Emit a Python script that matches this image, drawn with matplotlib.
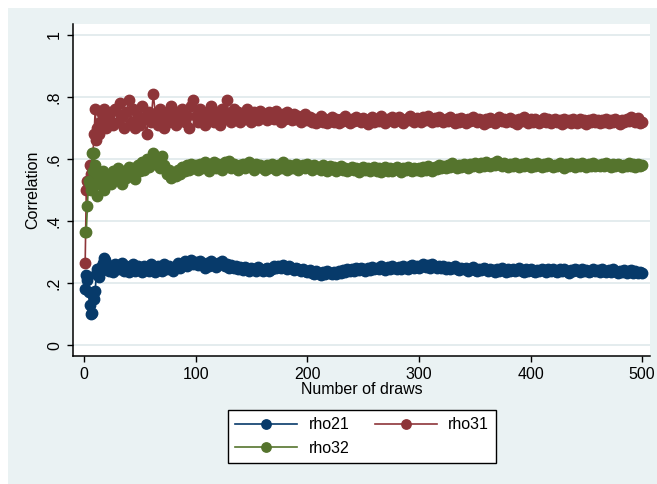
import numpy as np
import matplotlib
matplotlib.use("Agg")
import matplotlib.pyplot as plt
from matplotlib.patches import Rectangle

plt.rcParams['font.family'] = ['Liberation Sans', 'DejaVu Sans']

# draw numbers: every draw up to 20, then every 2nd draw
draws = np.concatenate([np.arange(1, 21), np.arange(22, 501, 2)])

rho21 = [0.18, 0.225, 0.21, 0.17, 0.13, 0.10, 0.105, 0.16, 0.15, 0.175,
         0.23, 0.245, 0.22, 0.25, 0.24, 0.255, 0.265, 0.28, 0.275, 0.25,
         0.24, 0.255, 0.235, 0.26, 0.245, 0.25, 0.265, 0.24, 0.255, 0.235,
         0.25, 0.26, 0.24, 0.255, 0.245, 0.235, 0.255, 0.25, 0.24, 0.26,
         0.245, 0.235, 0.255, 0.25, 0.24, 0.26, 0.245, 0.255, 0.25, 0.24,
         0.255, 0.265, 0.25, 0.26, 0.27, 0.255, 0.265, 0.275, 0.26, 0.268,
         0.258, 0.27, 0.262, 0.25, 0.265, 0.255, 0.27, 0.26, 0.252, 0.266,
         0.26, 0.27, 0.255, 0.262, 0.248, 0.258, 0.25, 0.256, 0.245, 0.252,
         0.242, 0.252, 0.246, 0.238, 0.25, 0.244, 0.24, 0.252, 0.245, 0.238,
         0.244, 0.25, 0.24, 0.246, 0.254, 0.248, 0.256, 0.25, 0.258, 0.252,
         0.246, 0.254, 0.248, 0.242, 0.25, 0.244, 0.238, 0.246, 0.24, 0.236,
         0.242, 0.234, 0.228, 0.238, 0.232, 0.226, 0.236, 0.23, 0.24, 0.232,
         0.228, 0.236, 0.23, 0.24, 0.234, 0.242, 0.236, 0.244, 0.238, 0.245,
         0.24, 0.248, 0.242, 0.25, 0.244, 0.238, 0.248, 0.242, 0.252, 0.245,
         0.25, 0.244, 0.254, 0.248, 0.242, 0.252, 0.246, 0.255, 0.249, 0.244,
         0.252, 0.247, 0.256, 0.25, 0.245, 0.254, 0.258, 0.25, 0.255, 0.248,
         0.256, 0.262, 0.252, 0.258, 0.25, 0.26, 0.254, 0.248, 0.256, 0.25,
         0.254, 0.246, 0.252, 0.244, 0.25, 0.256, 0.246, 0.242, 0.25, 0.244,
         0.248, 0.24, 0.246, 0.252, 0.243, 0.238, 0.247, 0.242, 0.25, 0.244,
         0.238, 0.246, 0.241, 0.236, 0.245, 0.24, 0.248, 0.242, 0.237, 0.244,
         0.24, 0.246, 0.238, 0.243, 0.248, 0.24, 0.236, 0.244, 0.239, 0.245,
         0.24, 0.235, 0.243, 0.238, 0.246, 0.241, 0.236, 0.244, 0.239, 0.246,
         0.24, 0.236, 0.244, 0.238, 0.245, 0.24, 0.234, 0.243, 0.238, 0.246,
         0.241, 0.236, 0.245, 0.239, 0.243, 0.236, 0.24, 0.246, 0.238, 0.243,
         0.237, 0.244, 0.239, 0.235, 0.242, 0.237, 0.244, 0.238, 0.233, 0.24,
         0.236, 0.241, 0.233, 0.238, 0.242, 0.234, 0.239, 0.232, 0.237, 0.234]

rho31 = [0.265, 0.50, 0.53, 0.52, 0.58, 0.55, 0.57, 0.62, 0.68, 0.76,
         0.66, 0.70, 0.68, 0.72, 0.75, 0.71, 0.73, 0.76, 0.72, 0.70,
         0.73, 0.75, 0.71, 0.76, 0.72, 0.78, 0.74, 0.70, 0.75, 0.79,
         0.72, 0.76, 0.70, 0.74, 0.71, 0.77, 0.73, 0.68, 0.75, 0.72,
         0.81, 0.74, 0.71, 0.76, 0.73, 0.70, 0.75, 0.72, 0.77, 0.73,
         0.71, 0.75, 0.73, 0.76, 0.72, 0.74, 0.70, 0.77, 0.79, 0.74,
         0.72, 0.76, 0.74, 0.71, 0.75, 0.73, 0.77, 0.72, 0.75, 0.74,
         0.71, 0.76, 0.73, 0.79, 0.74, 0.72, 0.76, 0.73, 0.75, 0.72,
         0.745, 0.73, 0.76, 0.735, 0.72, 0.75, 0.74, 0.725, 0.755, 0.735,
         0.745, 0.725, 0.75, 0.74, 0.73, 0.755, 0.735, 0.72, 0.745, 0.73,
         0.75, 0.735, 0.725, 0.745, 0.73, 0.74, 0.72, 0.735, 0.745, 0.725,
         0.735, 0.72, 0.73, 0.715, 0.728, 0.738, 0.72, 0.73, 0.715, 0.725,
         0.735, 0.72, 0.728, 0.715, 0.73, 0.722, 0.738, 0.725, 0.716, 0.73,
         0.722, 0.735, 0.726, 0.718, 0.732, 0.724, 0.714, 0.728, 0.736, 0.72,
         0.73, 0.722, 0.738, 0.726, 0.716, 0.73, 0.724, 0.735, 0.72, 0.728,
         0.735, 0.722, 0.716, 0.73, 0.724, 0.738, 0.726, 0.718, 0.732, 0.725,
         0.72, 0.734, 0.726, 0.74, 0.728, 0.718, 0.732, 0.722, 0.736, 0.726,
         0.718, 0.73, 0.722, 0.735, 0.725, 0.715, 0.728, 0.72, 0.733, 0.724,
         0.716, 0.728, 0.722, 0.735, 0.726, 0.718, 0.73, 0.724, 0.714, 0.728,
         0.72, 0.732, 0.725, 0.716, 0.728, 0.736, 0.722, 0.73, 0.718, 0.726,
         0.732, 0.72, 0.726, 0.714, 0.728, 0.722, 0.734, 0.724, 0.716, 0.728,
         0.72, 0.73, 0.722, 0.715, 0.726, 0.732, 0.72, 0.728, 0.716, 0.724,
         0.73, 0.718, 0.725, 0.714, 0.728, 0.72, 0.726, 0.716, 0.73, 0.722,
         0.716, 0.728, 0.72, 0.725, 0.714, 0.726, 0.72, 0.73, 0.718, 0.724,
         0.716, 0.726, 0.72, 0.73, 0.715, 0.724, 0.718, 0.728, 0.72, 0.714,
         0.724, 0.718, 0.73, 0.722, 0.736, 0.728, 0.72, 0.732, 0.716, 0.72]

rho32 = [0.365, 0.365, 0.45, 0.53, 0.52, 0.50, 0.62, 0.56, 0.62, 0.58,
         0.55, 0.48, 0.54, 0.52, 0.55, 0.53, 0.56, 0.50, 0.54, 0.52,
         0.54, 0.52, 0.56, 0.535, 0.57, 0.545, 0.52, 0.56, 0.54, 0.575,
         0.55, 0.57, 0.535, 0.58, 0.56, 0.59, 0.565, 0.60, 0.575, 0.59,
         0.62, 0.585, 0.60, 0.57, 0.61, 0.58, 0.55, 0.565, 0.54, 0.555,
         0.545, 0.565, 0.55, 0.575, 0.56, 0.58, 0.565, 0.585, 0.57, 0.58,
         0.565, 0.585, 0.57, 0.59, 0.575, 0.56, 0.58, 0.59, 0.57, 0.585,
         0.575, 0.565, 0.59, 0.58, 0.595, 0.57, 0.585, 0.575, 0.565, 0.58,
         0.585, 0.57, 0.58, 0.59, 0.575, 0.565, 0.585, 0.575, 0.58, 0.57,
         0.565, 0.58, 0.57, 0.585, 0.575, 0.565, 0.58, 0.57, 0.59, 0.575,
         0.565, 0.58, 0.57, 0.575, 0.585, 0.565, 0.575, 0.58, 0.57, 0.585,
         0.575, 0.565, 0.58, 0.57, 0.575, 0.565, 0.58, 0.57, 0.562, 0.578,
         0.568, 0.575, 0.562, 0.57, 0.578, 0.565, 0.572, 0.56, 0.568, 0.575,
         0.565, 0.572, 0.558, 0.568, 0.575, 0.563, 0.57, 0.56, 0.567, 0.574,
         0.562, 0.57, 0.558, 0.566, 0.574, 0.562, 0.57, 0.56, 0.568, 0.575,
         0.565, 0.558, 0.57, 0.563, 0.575, 0.566, 0.56, 0.572, 0.564, 0.57,
         0.562, 0.574, 0.566, 0.578, 0.57, 0.562, 0.575, 0.568, 0.58, 0.572,
         0.578, 0.57, 0.582, 0.574, 0.586, 0.576, 0.57, 0.582, 0.575, 0.585,
         0.578, 0.572, 0.584, 0.576, 0.588, 0.58, 0.574, 0.586, 0.578, 0.59,
         0.582, 0.576, 0.588, 0.58, 0.592, 0.584, 0.576, 0.586, 0.58, 0.574,
         0.584, 0.578, 0.588, 0.58, 0.574, 0.585, 0.578, 0.586, 0.58, 0.575,
         0.585, 0.578, 0.588, 0.58, 0.574, 0.584, 0.576, 0.586, 0.58, 0.574,
         0.582, 0.576, 0.586, 0.578, 0.572, 0.584, 0.578, 0.586, 0.58, 0.574,
         0.583, 0.576, 0.588, 0.58, 0.574, 0.584, 0.578, 0.586, 0.576, 0.582,
         0.576, 0.584, 0.578, 0.586, 0.58, 0.574, 0.584, 0.577, 0.585, 0.579,
         0.574, 0.582, 0.576, 0.586, 0.578, 0.583, 0.575, 0.585, 0.578, 0.582]

yticks = [0, 0.2, 0.4, 0.6, 0.8, 1]
ytick_labels = ['0', '.2', '.4', '.6', '.8', '1']
xticks = [0, 100, 200, 300, 400, 500]

navy = '#073A6A'
maroon = '#8E3539'
green = '#55742D'
bg = '#EAF2F3'

fig = plt.figure(figsize=(6.57, 4.84), dpi=100)
fig.patch.set_facecolor('white')
fig.add_artist(Rectangle((8 / 657, 0), 1, 1 - 8 / 484, transform=fig.transFigure,
                         facecolor=bg, edgecolor='none', zorder=-10))

ax = fig.add_axes([73 / 657, 1 - 356 / 484, 577 / 657, 332 / 484])
ax.set_facecolor('white')

fs = 11.5
l1, = ax.plot(draws, rho21, color=navy, marker='o', ms=7.5, lw=1.2, label='rho21')
l2, = ax.plot(draws, rho31, color=maroon, marker='o', ms=7.5, lw=1.2, label='rho31')
l3, = ax.plot(draws, rho32, color=green, marker='o', ms=7.5, lw=1.2, label='rho32')

ax.set_xlim(-9.9, 507)
ax.set_ylim(-0.035, 1.035)
ax.set_yticks(yticks)
ax.set_yticklabels(ytick_labels, rotation=90, va='center')
ax.set_xticks(xticks)
ax.grid(axis='y', color='#E2EBED', lw=1.3)
ax.set_axisbelow(True)

for s in ['top', 'right']:
    ax.spines[s].set_visible(False)
for s in ['left', 'bottom']:
    ax.spines[s].set_linewidth(1.1)
    ax.spines[s].set_color('black')
ax.tick_params(axis='both', labelsize=fs, length=4.5, width=1, color='black', pad=3.5)

ax.set_ylabel('Correlation', fontsize=fs, labelpad=5)
ax.set_xlabel('Number of draws', fontsize=fs, labelpad=0)

leg = fig.legend([l1, l3, l2], ['rho21', 'rho32', 'rho31'], ncol=2, loc='center',
                 bbox_to_anchor=(362 / 657, 1 - 436.5 / 484), fontsize=fs,
                 handlelength=3.9, handletextpad=0.7, columnspacing=1.6,
                 fancybox=False, framealpha=1, edgecolor='black', labelspacing=0.55,
                 borderpad=0.45, markerscale=0.9)
leg.get_frame().set_linewidth(1)

fig.savefig('out.png', dpi=100)
